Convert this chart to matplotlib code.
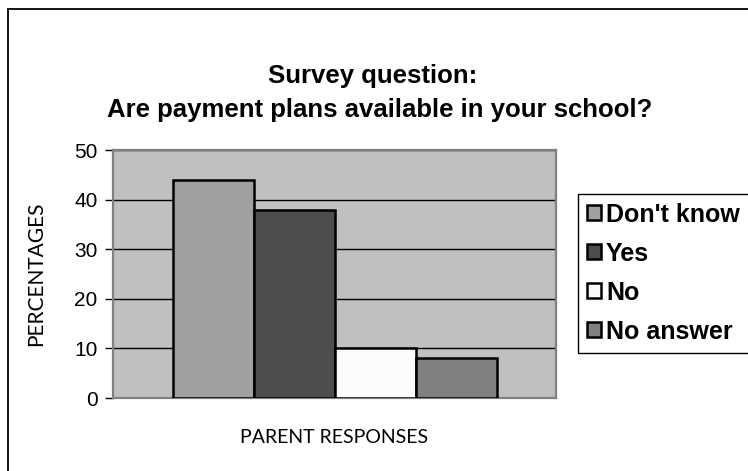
import matplotlib.pyplot as plt
from matplotlib.patches import Rectangle

# survey results (percent of parents)
responses = ["Don't know", "Yes", "No", "No answer"]
percentages = [44, 38, 10, 8]
bar_colors = ["#a0a0a0", "#4d4d4d", "#fcfcfc", "#808080"]
yticks = [0, 10, 20, 30, 40, 50]

W, H = 748, 471
fig = plt.figure(figsize=(W / 100, H / 100), dpi=100)

# outer chart border (runs off the right and bottom edges)
fig.patches.append(Rectangle((8 / W, -0.2), 1.2, 1 - 9 / H + 0.2,
                             transform=fig.transFigure, fill=False,
                             edgecolor="black", linewidth=1.3))

ax = fig.add_axes([113 / W, 1 - 398 / H, 443 / W, 248 / H])
ax.set_facecolor("#c0c0c0")

width = 81 / 443
offsets = [(i - 1.5) * width for i in range(len(responses))]
bars = []
for x, val, col, lab in zip(offsets, percentages, bar_colors, responses):
    b = ax.bar(x, val, width=width, color=col, edgecolor="black",
               linewidth=1.8, label=lab, zorder=3)
    bars.append(b)

ax.set_xlim(-0.5, 0.5)
ax.set_ylim(0, 50)
ax.set_yticks(yticks)
ax.set_xticks([])
ax.yaxis.grid(True, color="black", linewidth=1.0, zorder=1)
ax.set_axisbelow(True)
for s in ax.spines.values():
    s.set_color("#808080")
    s.set_linewidth(1.6)
ax.tick_params(axis="y", length=6, width=1.0, color="black", pad=5,
               labelsize=15)
for t in ax.get_yticklabels():
    t.set_fontfamily("Liberation Sans")

ax.set_ylabel("PERCENTAGES", fontsize=15, family="Lato", labelpad=20)
ax.set_xlabel("PARENT RESPONSES", fontsize=14, family="Lato", labelpad=22)

fig.text(373 / W, 1 - 76 / H, "Survey question:", ha="center", va="center",
         fontsize=18.5, fontweight="bold", family="Liberation Sans")
fig.text(380 / W, 1 - 110 / H, "Are payment plans available in your school?",
         ha="center", va="center", fontsize=18.5, fontweight="bold",
         family="Liberation Sans")

leg = fig.legend(handles=bars, labels=responses, loc="upper left",
                 bbox_to_anchor=(578 / W, 1 - 194 / H), frameon=True,
                 fancybox=False, edgecolor="black", framealpha=1,
                 borderpad=0.35, labelspacing=0.6, handlelength=0.55,
                 handleheight=0.55, handletextpad=0.22, borderaxespad=0,
                 prop={"family": "Liberation Sans", "weight": "bold",
                       "size": 18})
leg.get_frame().set_linewidth(1.0)

fig.savefig("out.png", dpi=100)
